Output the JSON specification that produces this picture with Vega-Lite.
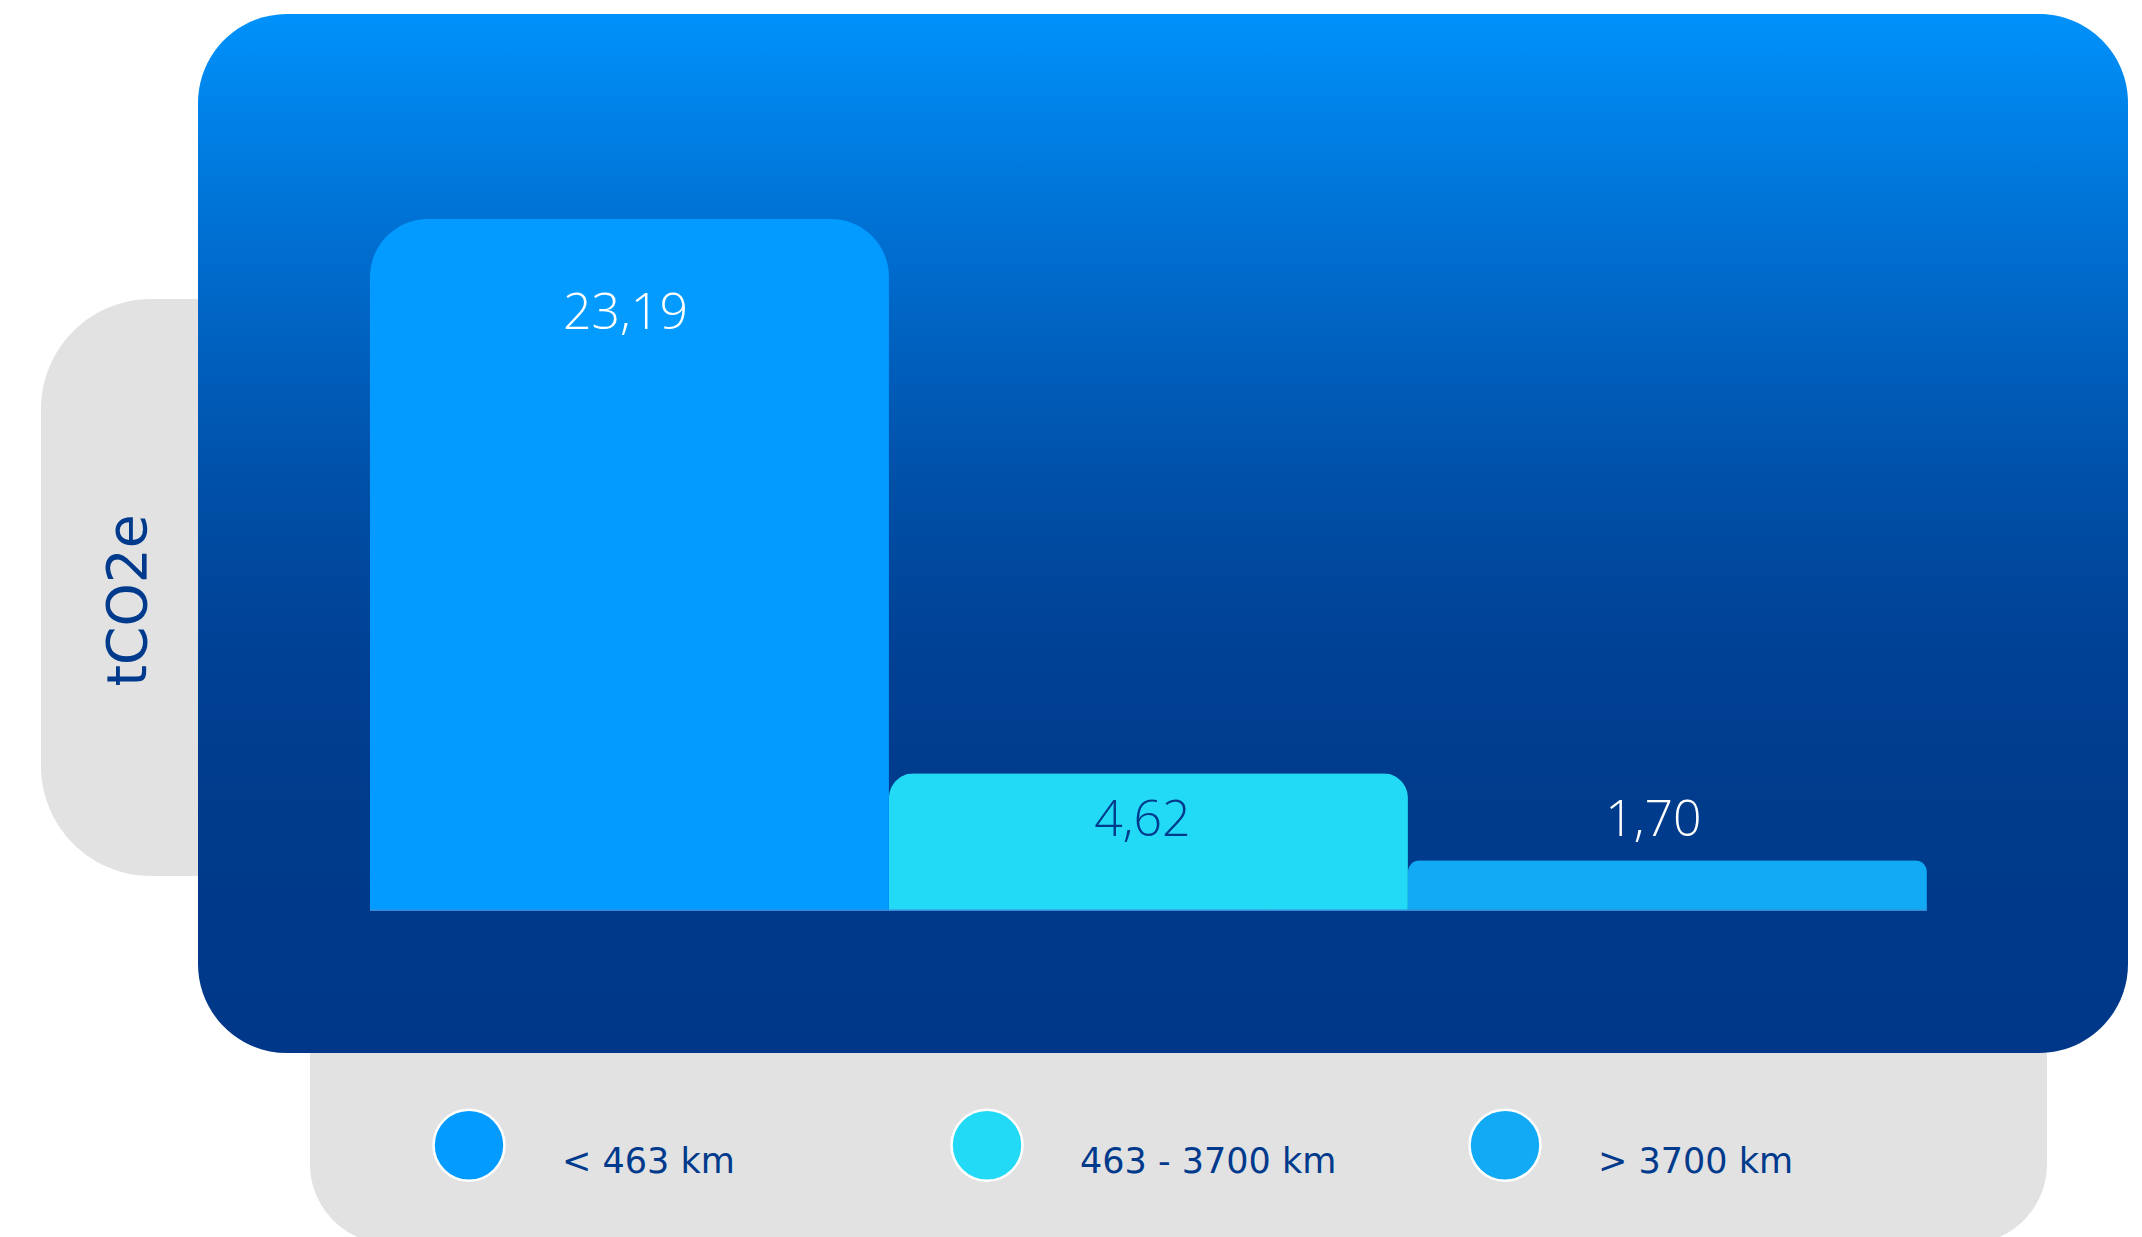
{
  "$schema": "https://vega.github.io/schema/vega-lite/v6.json",
  "autosize": {"type": "pad"},
  "padding": {"left": 38, "top": 14, "right": 15, "bottom": 0},
  "spacing": 0,
  "bounds": "flush",
  "background": "white",
  "config": {"view": {"stroke": null}},
  "datasets": {
    "emissions": [
      {"band": "< 463 km", "value": 23.19, "label": "23,19"},
      {"band": "463 - 3700 km", "value": 4.62, "label": "4,62"},
      {"band": ">  3700 km", "value": 1.70, "label": "1,70"}
    ]
  },
  "resolve": {"legend": {"color": "independent", "stroke": "independent", "fill": "independent"}},
  "hconcat": [
    {
      "width": 1,
      "height": 1039,
      "data": {"values": [{"panel": "y-title box"}]},
      "mark": {"type": "point", "opacity": 0},
      "encoding": {
        "stroke": {
          "datum": 1,
          "type": "quantitative",
          "scale": {"domain": [0, 1], "range": ["#e2e2e2", "#e2e2e2"]},
          "legend": {
            "type": "gradient",
            "title": null,
            "orient": "none",
            "legendX": 0,
            "legendY": 285,
            "direction": "vertical",
            "gradientLength": 497,
            "gradientThickness": 220,
            "gradientStrokeWidth": 0,
            "fillColor": "#e2e2e2",
            "cornerRadius": 110,
            "padding": 40,
            "labelOpacity": 0,
            "labelFontSize": 8,
            "tickCount": 2
          }
        }
      }
    },
    {
      "width": 1,
      "height": 1039,
      "data": {"values": [{"panel": "legend box"}]},
      "mark": {"type": "point", "opacity": 0, "filled": true},
      "encoding": {
        "fill": {
          "datum": 1,
          "type": "quantitative",
          "scale": {"domain": [0, 1], "range": ["#e2e2e2", "#e2e2e2"]},
          "legend": {
            "type": "gradient",
            "title": null,
            "orient": "none",
            "legendX": 268,
            "legendY": 936,
            "direction": "horizontal",
            "gradientLength": 1657,
            "gradientThickness": 204,
            "gradientStrokeWidth": 0,
            "fillColor": "#e2e2e2",
            "cornerRadius": 80,
            "padding": 40,
            "labelOpacity": 0,
            "labelFontSize": 8,
            "labelOffset": 2,
            "tickCount": 2
          }
        }
      }
    },
    {
      "width": 155,
      "height": 1039,
      "data": {"name": "emissions"},
      "mark": {"type": "point", "filled": true, "opacity": 0},
      "encoding": {
        "color": {
          "field": "band", "type": "nominal",
          "scale": {"domain": ["< 463 km", "463 - 3700 km", ">  3700 km"], "range": ["#039bff", "#22daf5", "#12aaf5"]},
          "legend": {
            "title": null,
            "orient": "none",
            "legendX": 389,
            "legendY": 1094,
            "direction": "horizontal",
            "padding": 0,
            "symbolType": "circle",
            "symbolSize": 5027,
            "symbolStrokeColor": "white",
            "symbolStrokeWidth": 2.5,
            "symbolOpacity": 1,
            "labelFont": "DejaVu Sans",
            "labelFontSize": 35,
            "labelFontWeight": 400,
            "labelColor": "#003a8c",
            "labelBaseline": "top",
            "labelOffset": 56,
            "labelLimit": 600,
            "columnPadding": 127,
            "gridAlign": "all"
          }
        }
      }
    },
    {
      "width": 1930,
      "height": 1039,
      "layer": [
        {
          "data": {"values": [{"panel": "plot"}]},
          "mark": {
            "type": "rect",
            "cornerRadius": 89,
            "fill": {
              "gradient": "linear", "x1": 0, "y1": 0, "x2": 0, "y2": 1,
              "stops": [
                {"offset": 0, "color": "#0092fb"},
                {"offset": 0.15, "color": "#0079dd"},
                {"offset": 0.3, "color": "#0063c2"},
                {"offset": 0.45, "color": "#0050a8"},
                {"offset": 0.6, "color": "#004296"},
                {"offset": 0.75, "color": "#003b8c"},
                {"offset": 1, "color": "#003789"}
              ]
            }
          },
          "encoding": {}
        },
        {
          "data": {"name": "emissions"},
          "transform": [{"filter": "datum.band === '< 463 km'"}],
          "mark": {"type": "bar", "cornerRadiusTopLeft": 58, "cornerRadiusTopRight": 58},
          "encoding": {
            "x": {"field": "band", "type": "nominal", "sort": null, "axis": null,
                  "scale": {"domain": ["< 463 km", "463 - 3700 km", ">  3700 km"], "paddingInner": 0, "paddingOuter": 0.3594, "align": 0.461}},
            "y": {"field": "value", "type": "quantitative",
                  "scale": {"domain": [0, 30.06], "range": [897, 0], "nice": false, "zero": true},
                  "axis": {
                    "title": "tCO2e",
                    "domain": false, "ticks": false, "labels": false, "grid": false,
                    "titleFont": "DejaVu Sans", "titleFontSize": 55, "titleFontWeight": 400,
                    "titleColor": "#003a8c", "titleAngle": -90,
                    "titleAlign": "center", "titleBaseline": "middle",
                    "titleX": -70, "titleY": 586
                  }},
            "color": {"field": "band", "type": "nominal", "legend": null}
          }
        },
        {
          "data": {"name": "emissions"},
          "transform": [{"filter": "datum.band === '463 - 3700 km'"}],
          "mark": {"type": "bar", "cornerRadiusTopLeft": 25, "cornerRadiusTopRight": 25},
          "encoding": {
            "x": {"field": "band", "type": "nominal", "sort": null},
            "y": {"field": "value", "type": "quantitative"},
            "color": {"field": "band", "type": "nominal", "legend": null}
          }
        },
        {
          "data": {"name": "emissions"},
          "transform": [{"filter": "datum.band === '>  3700 km'"}],
          "mark": {"type": "bar", "cornerRadiusTopLeft": 12, "cornerRadiusTopRight": 12},
          "encoding": {
            "x": {"field": "band", "type": "nominal", "sort": null},
            "y": {"field": "value", "type": "quantitative"},
            "color": {"field": "band", "type": "nominal", "legend": null}
          }
        },
        {
          "data": {"name": "emissions"},
          "mark": {"type": "bar", "color": "#3a8ad6", "y2Offset": -1.5},
          "encoding": {
            "x": {"field": "band", "type": "nominal", "sort": null},
            "y": {"datum": 0, "type": "quantitative"},
            "y2": {"datum": 0}
          }
        },
        {
          "data": {"name": "emissions"},
          "transform": [{"filter": "datum.band === '< 463 km'"}],
          "mark": {"type": "text", "font": "Open Sans", "fontWeight": 300, "fontSize": 50, "color": "white", "baseline": "middle", "dy": 95, "dx": -4},
          "encoding": {
            "x": {"field": "band", "type": "nominal", "sort": null},
            "y": {"field": "value", "type": "quantitative"},
            "text": {"field": "label"}
          }
        },
        {
          "data": {"name": "emissions"},
          "transform": [{"filter": "datum.band === '463 - 3700 km'"}],
          "mark": {"type": "text", "font": "Open Sans", "fontWeight": 300, "fontSize": 50, "color": "#003a8c", "baseline": "middle", "dy": 48, "dx": -6},
          "encoding": {
            "x": {"field": "band", "type": "nominal", "sort": null},
            "y": {"field": "value", "type": "quantitative"},
            "text": {"field": "label"}
          }
        },
        {
          "data": {"name": "emissions"},
          "transform": [{"filter": "datum.band === '>  3700 km'"}],
          "mark": {"type": "text", "font": "Open Sans", "fontWeight": 300, "fontSize": 50, "color": "white", "baseline": "middle", "dy": -39, "dx": -14},
          "encoding": {
            "x": {"field": "band", "type": "nominal", "sort": null},
            "y": {"field": "value", "type": "quantitative"},
            "text": {"field": "label"}
          }
        }
      ]
    }
  ]
}
